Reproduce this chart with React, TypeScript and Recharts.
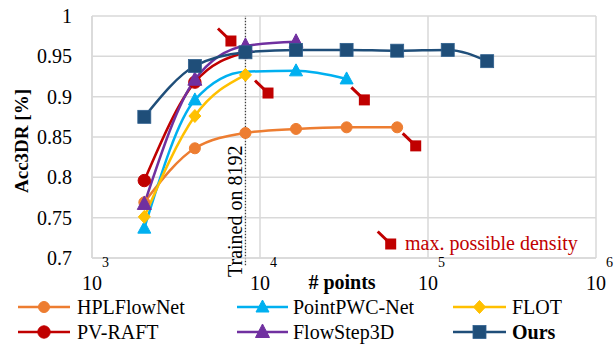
import React from 'react';
import {
  ComposedChart,
  Line,
  Scatter,
  XAxis,
  YAxis,
  CartesianGrid,
  ReferenceLine,
} from 'recharts';

const FONT = '"Liberation Serif", "DejaVu Serif", serif';

// x: number of points
const hplX = [2048, 4096, 8192, 16384, 32768, 65536];
const hplY = [0.769, 0.836, 0.855, 0.86, 0.862, 0.862];
const pwcX = [2048, 4096, 8192, 16384, 32768];
const pwcY = [0.737, 0.896, 0.931, 0.932, 0.922];
const pwcHiddenMarkers = [8192]; // marker covered in the original
const flotX = [2048, 4096, 8192];
const flotY = [0.751, 0.876, 0.927];
const pvX = [2048, 4096, 8192];
const pvY = [0.796, 0.918, 0.955];
const fsX = [2048, 4096, 8192, 16384];
const fsY = [0.767, 0.921, 0.963, 0.968];
const oursX = [2048, 4096, 8192, 16384, 32768, 65536, 131072, 225000];
const oursY = [0.875, 0.938, 0.955, 0.958, 0.958, 0.957, 0.958, 0.944];

// max possible density markers
const maxDenX = [6714, 11160, 41800, 84500];
const maxDenY = [0.969, 0.9045, 0.896, 0.839];

const xTicks = [1000, 10000, 100000, 1000000];
const yTicks = [0.7, 0.75, 0.8, 0.85, 0.9, 0.95, 1];
const trainedOn = 8192;

const zip = (xs: number[], ys: number[]) => xs.map((x, i) => ({ x, y: ys[i] }));

const COLORS = {
  hpl: '#ED7D31',
  pwc: '#00B0F0',
  flot: '#FFC000',
  pv: '#C00000',
  fs: '#7030A0',
  ours: '#1F4E79',
  red: '#C00000',
};

const textStyle: React.CSSProperties = { fontFamily: FONT };

type Kind = 'circle' | 'bigcircle' | 'triangle' | 'bigtriangle' | 'diamond' | 'square';

const Marker = ({ cx, cy, kind, color }: { cx: number; cy: number; kind: Kind; color: string }) => {
  if (cx == null || cy == null || isNaN(cx) || isNaN(cy)) return null;
  switch (kind) {
    case 'circle':
      return <circle cx={cx} cy={cy} r={5.5} fill={color} stroke={color} />;
    case 'bigcircle':
      return <circle cx={cx} cy={cy} r={6.2} fill={color} stroke={color} />;
    case 'triangle':
      return (
        <polygon
          points={`${cx},${cy - 7} ${cx - 6.5},${cy + 5} ${cx + 6.5},${cy + 5}`}
          fill={color}
          stroke={color}
        />
      );
    case 'bigtriangle':
      return (
        <polygon
          points={`${cx},${cy - 8} ${cx - 7},${cy + 5.5} ${cx + 7},${cy + 5.5}`}
          fill={color}
          stroke={color}
        />
      );
    case 'diamond':
      return (
        <polygon
          points={`${cx},${cy - 6.5} ${cx + 6},${cy} ${cx},${cy + 6.5} ${cx - 6},${cy}`}
          fill={color}
          stroke={color}
        />
      );
    case 'square':
    default:
      return (
        <rect x={cx - 6.5} y={cy - 6.5} width={13} height={13} fill={color} stroke="#2E5F8E" strokeWidth={0.8} />
      );
  }
};

const dotFn = (kind: Kind, color: string, hidden: number[] = []) => (props: any) => {
  const xv = props.payload ? props.payload.x : undefined;
  if (hidden.includes(xv)) return <g key={`d-${props.index}`} />;
  return (
    <g key={`d-${props.index}`}>
      <Marker cx={props.cx} cy={props.cy} kind={kind} color={color} />
    </g>
  );
};

const MaxDensityShape = (props: any) => {
  const { cx, cy } = props;
  if (cx == null || cy == null) return <g />;
  return (
    <g>
      <line x1={cx - 13} y1={cy - 12.5} x2={cx} y2={cy} stroke={COLORS.red} strokeWidth={3} />
      <rect x={cx - 5.5} y={cy - 5.5} width={11} height={11} fill={COLORS.red} />
    </g>
  );
};

const XTick = (props: any) => {
  const { x, y, payload } = props;
  const exp = Math.round(Math.log10(payload.value));
  return (
    <g>
      <text x={x} y={y + 32} textAnchor="middle" fontSize={20} style={textStyle} fill="#000">
        10
      </text>
      <text x={x + 10} y={y + 9} textAnchor="start" fontSize={14} style={textStyle} fill="#000">
        {exp}
      </text>
    </g>
  );
};

const YTick = (props: any) => {
  const { x, y, payload } = props;
  return (
    <text x={x} y={y} dy={7} textAnchor="end" fontSize={20} style={textStyle} fill="#000">
      {String(payload.value)}
    </text>
  );
};

const legendItems: { name: string; color: string; kind: Kind; bold?: boolean }[] = [
  { name: 'HPLFlowNet', color: COLORS.hpl, kind: 'circle' },
  { name: 'PointPWC-Net', color: COLORS.pwc, kind: 'triangle' },
  { name: 'FLOT', color: COLORS.flot, kind: 'diamond' },
  { name: 'PV-RAFT', color: COLORS.pv, kind: 'bigcircle' },
  { name: 'FlowStep3D', color: COLORS.fs, kind: 'bigtriangle' },
  { name: 'Ours', color: COLORS.ours, kind: 'square', bold: true },
];

const legendCols = [
  { x1: 18, x2: 70, tx: 77 },
  { x1: 237, x2: 288, tx: 293 },
  { x1: 453, x2: 506, tx: 512 },
];
const legendRows = [307, 332];

const Overlay = () => (
  <svg
    width={614}
    height={345}
    style={{ position: 'absolute', left: 0, top: 0, pointerEvents: 'none' }}
  >
    {legendItems.map((it, i) => {
      const c = legendCols[i % 3];
      const y = legendRows[Math.floor(i / 3)];
      return (
        <g key={it.name}>
          <line x1={c.x1} y1={y} x2={c.x2} y2={y} stroke={it.color} strokeWidth={2.5} />
          <Marker cx={(c.x1 + c.x2) / 2} cy={y} kind={it.kind} color={it.color} />
          <text
            x={c.tx}
            y={y + 7}
            fontSize={20}
            style={textStyle}
            fontWeight={it.bold ? 'bold' : 'normal'}
            fill="#000"
          >
            {it.name}
          </text>
        </g>
      );
    })}
    <g>
      <line x1={377.7} y1={231.5} x2={390.7} y2={244} stroke={COLORS.red} strokeWidth={3} />
      <rect x={385.2} y={238.5} width={11} height={11} fill={COLORS.red} />
      <text x={405} y={250} fontSize={20} style={textStyle} fill={COLORS.red}>
        max. possible density
      </text>
    </g>
    <text
      x={21}
      y={141}
      transform="rotate(-90, 21, 141)"
      textAnchor="middle"
      dominantBaseline="central"
      fontSize={19}
      fontWeight="bold"
      style={textStyle}
      fill="#000"
    >
      Acc3DR [%]
    </text>
    <text x={342} y={289} textAnchor="middle" fontSize={20} fontWeight="bold" style={textStyle} fill="#000">
      # points
    </text>
    <text
      x={242}
      y={277}
      transform="rotate(-90, 242, 277)"
      fontSize={20}
      style={textStyle}
      fill="#000"
    >
      Trained on 8192
    </text>
  </svg>
);

const series = [
  { key: 'hpl', name: 'HPLFlowNet', data: zip(hplX, hplY), color: COLORS.hpl, kind: 'circle' as Kind, hidden: [] as number[] },
  { key: 'pwc', name: 'PointPWC-Net', data: zip(pwcX, pwcY), color: COLORS.pwc, kind: 'triangle' as Kind, hidden: pwcHiddenMarkers },
  { key: 'flot', name: 'FLOT', data: zip(flotX, flotY), color: COLORS.flot, kind: 'diamond' as Kind, hidden: [] as number[] },
  { key: 'pv', name: 'PV-RAFT', data: zip(pvX, pvY), color: COLORS.pv, kind: 'bigcircle' as Kind, hidden: [] as number[] },
  { key: 'fs', name: 'FlowStep3D', data: zip(fsX, fsY), color: COLORS.fs, kind: 'bigtriangle' as Kind, hidden: [] as number[] },
  { key: 'ours', name: 'Ours', data: zip(oursX, oursY), color: COLORS.ours, kind: 'square' as Kind, hidden: [] as number[] },
];

export default function App() {
  return (
    <div style={{ position: 'absolute', left: 0, top: 0, width: 614, height: 345, background: '#fff', fontFamily: FONT }}>
      <ComposedChart
        width={614}
        height={345}
        margin={{ top: 16, right: 18, left: 0, bottom: 57 }}
      >
        <CartesianGrid stroke="#D9D9D9" strokeWidth={1.5} />
        <XAxis
          dataKey="x"
          type="number"
          scale="log"
          domain={[1000, 1000000]}
          ticks={xTicks}
          allowDataOverflow
          height={30}
          tickLine={false}
          tickSize={0}
          tickMargin={0}
          axisLine={{ stroke: '#D9D9D9', strokeWidth: 1.5 }}
          tick={<XTick />}
          interval={0}
        />
        <YAxis
          dataKey="y"
          type="number"
          domain={[0.7, 1]}
          ticks={yTicks}
          allowDataOverflow
          width={92}
          tickLine={false}
          tickSize={0}
          tickMargin={20}
          axisLine={{ stroke: '#D9D9D9', strokeWidth: 1.5 }}
          tick={<YTick />}
          interval={0}
        />
        <ReferenceLine
          segment={[
            { x: trainedOn, y: 0.691 },
            { x: trainedOn, y: 1 },
          ]}
          ifOverflow="visible"
          stroke="#404040"
          strokeWidth={1.3}
          strokeDasharray="1.5 1.5"
        />
        {series.map((s) => (
          <Line
            key={s.key}
            data={s.data}
            dataKey="y"
            name={s.name}
            type="monotone"
            stroke={s.color}
            strokeWidth={2.5}
            dot={dotFn(s.kind, s.color, s.hidden)}
            activeDot={false}
            isAnimationActive={false}
          />
        ))}
        <Scatter
          data={zip(maxDenX, maxDenY)}
          dataKey="y"
          shape={MaxDensityShape}
          isAnimationActive={false}
        />
      </ComposedChart>
      <Overlay />
    </div>
  );
}
